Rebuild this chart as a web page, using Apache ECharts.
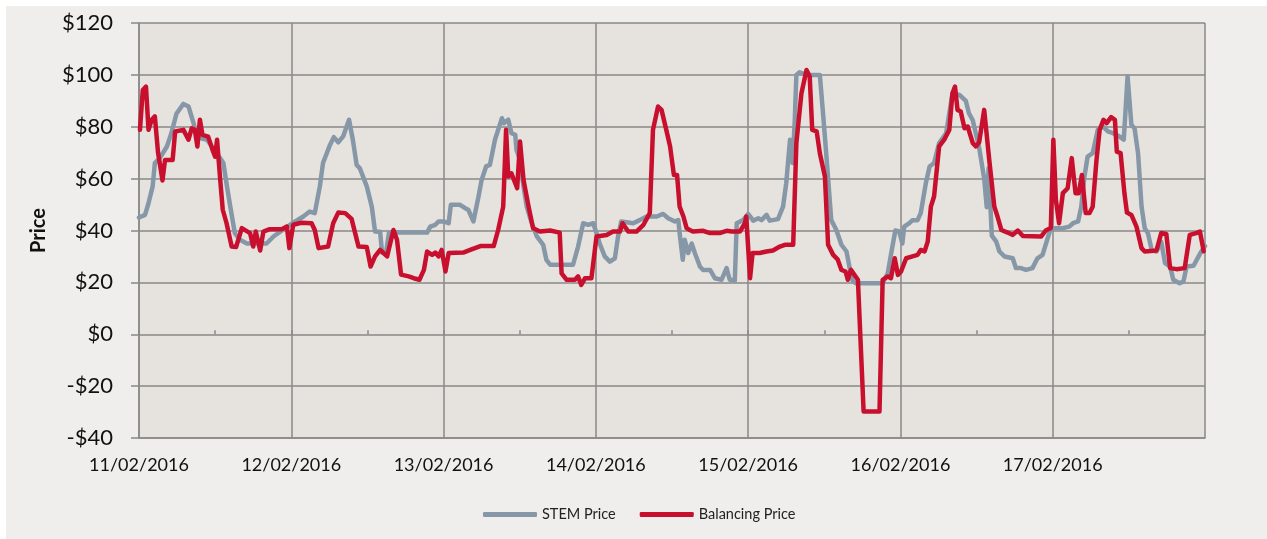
<!DOCTYPE html>
<html>
<head>
<meta charset="utf-8">
<style>
  html, body { margin: 0; padding: 0; background: #fff; }
  #price-chart { width: 1267px; height: 539px; }
</style>
<script src="https://cdn.jsdelivr.net/npm/echarts@6/dist/echarts.min.js"></script>
</head>
<body>
<div id="price-chart"></div>
<script>
// x = hours since 11/02/2016 00:00, y = price ($)
const dayLabels = ["11/02/2016", "12/02/2016", "13/02/2016", "14/02/2016", "15/02/2016", "16/02/2016", "17/02/2016", ""];
const yTicks = [-40, -20, 0, 20, 40, 60, 80, 100, 120];

const stemPrice = [
  [0, 45], [0.95, 46], [1.5, 50.5], [2.15, 57], [2.5, 66], [3.3, 68], [4.4, 72.4], [5.1, 77.5],
  [5.9, 85], [7, 88.8], [7.8, 87.8], [8.6, 81.4], [9.1, 76], [10.7, 75], [12.2, 70], [13.3, 66],
  [13.8, 58], [14.3, 50.5], [15.1, 39], [15.9, 36.4], [17, 35], [20.1, 35], [21.2, 37.7], [22.7, 40.3],
  [24.3, 43], [25.9, 45.4], [26.9, 47.3], [27.7, 46.7], [28.5, 57], [29, 66], [30.1, 73], [30.7, 76],
  [31.4, 74], [32.2, 76.4], [33.1, 82.7], [33.7, 75], [34.3, 65.3], [34.8, 64], [35.9, 57], [36.7, 49],
  [37.2, 39.6], [38, 39.5], [38.3, 31.5], [38.9, 31], [39.4, 39.2], [45.4, 39.2], [45.9, 41.5], [46.7, 42.2],
  [47.2, 43.5], [48, 43.5], [48.8, 42.8], [49.15, 49.9], [50.6, 49.9], [51.4, 48.6], [51.9, 48], [52.7, 43.5],
  [53.5, 53], [54, 59.5], [54.7, 64.7], [55.3, 65.3], [56.1, 75], [56.6, 78.8], [57.2, 83.3], [57.5, 81.4],
  [58.2, 82.7], [58.7, 77.5], [59.3, 76.9], [59.5, 71], [60.05, 67.2], [60.6, 57], [61.1, 49.2], [61.9, 42.8],
  [62.7, 37.7], [63.7, 34.5], [64.2, 28.7], [64.8, 26.8], [68.4, 26.8], [69.2, 33.8], [70, 42.8], [70.8, 42.2],
  [71.6, 42.8], [72.6, 35], [73.4, 30], [74.2, 28], [75, 29.3], [75.5, 37.7], [76, 43.5], [76.3, 43.8],
  [77.9, 42.8], [78.9, 44], [80, 45.4], [81.6, 45.4], [82.6, 46.4], [83.4, 44.7], [84.45, 43.5], [85, 44],
  [85.2, 39], [85.7, 28.7], [86, 36.4], [86.55, 31.3], [87.1, 35], [87.6, 31.3], [88.4, 26.1], [88.9, 24.8],
  [90, 24.8], [90.75, 21.6], [91.8, 21], [92.6, 25.5], [93.1, 21], [93.9, 20.7], [94.2, 42.8], [95.2, 44],
  [96, 46.4], [96.8, 43.8], [97.6, 44.7], [98.1, 44], [98.9, 46], [99.4, 43.8], [100.7, 44.4], [101.5, 49.2],
  [102, 58.2], [102.6, 75], [103, 66], [103.35, 82.7], [103.6, 100], [104.1, 101], [105.2, 100], [107.3, 100],
  [107.8, 85.2], [108.3, 69.8], [109.1, 44], [109.9, 40.2], [110.7, 34.5], [111.5, 31.9], [112, 25.5], [112.5, 20.3],
  [113, 19.7], [117.2, 19.7], [118, 23.5], [118.5, 30.6], [119.2, 40], [119.8, 39.6], [120.3, 35], [120.6, 41.5],
  [121.4, 42.8], [121.9, 44], [122.7, 44], [123.2, 46.7], [124, 58.2], [124.6, 64.7], [125.3, 66], [126.1, 73.7],
  [127.2, 77.5], [128.2, 92.9], [129.3, 92.3], [130.3, 90], [130.8, 85.2], [131.4, 82.5], [132.4, 72], [133.2, 60],
  [133.6, 49], [133.9, 64], [134.4, 38], [135.1, 35.7], [135.6, 31.9], [136.4, 30], [137.7, 29.3], [138.2, 25.5],
  [139, 25.5], [139.8, 24.8], [140.8, 25.5], [141.6, 29.3], [142.4, 30.6], [143.2, 37], [143.7, 40.9], [145.6, 40.9],
  [146.6, 41.5], [147.2, 42.8], [148, 43.5], [148.5, 49.2], [149, 60.8], [149.5, 68.5], [150.3, 69.8], [151.1, 78.8],
  [151.9, 80.1], [152.7, 78.2], [153.5, 77.5], [154.55, 76.2], [155.2, 75], [155.8, 99.4], [156.4, 80.7], [156.9, 79.4],
  [157.45, 69.8], [158, 49.2], [158.5, 40.9], [159, 39], [159.6, 32.5], [160.35, 31.9], [161.1, 35.7], [161.7, 27.4],
  [162.5, 26.1], [163, 21], [164, 19.7], [164.6, 20.3], [165.1, 26.1], [166.2, 26.4], [167.2, 31], [168, 34]
];

const balancingPrice = [
  [0.15, 78.8], [0.6, 94.2], [1.1, 95.5], [1.5, 78.8], [2, 82.7], [2.5, 84], [3, 70], [3.7, 59.3],
  [4.1, 67.2], [5.3, 67.2], [5.7, 78.2], [7, 78.8], [7.8, 75], [8.3, 79.4], [8.8, 78.8], [9.2, 72.4],
  [9.6, 82.7], [10, 76.9], [10.9, 76.2], [11.6, 71], [12, 68.5], [12.3, 75], [12.8, 59.5], [13.2, 48],
  [13.8, 42.8], [14.6, 33.8], [15.3, 33.6], [16.2, 40.9], [17.5, 39], [18, 33.8], [18.4, 39.6], [19.1, 32.3],
  [19.6, 39.6], [20.6, 40.5], [22.5, 40.5], [23.3, 41.5], [23.7, 33.2], [24.3, 42.2], [25.6, 43], [27.2, 42.8],
  [27.7, 40.2], [28.3, 33.2], [29.8, 33.8], [30.6, 42.8], [31.4, 46.9], [32.5, 46.7], [33.5, 44.5], [34.6, 33.8],
  [35.9, 33.6], [36.5, 26.1], [37.2, 30], [38, 32.5], [39.1, 30], [40.1, 40.2], [40.66, 36.4], [41.3, 23],
  [42.5, 22.3], [43.3, 21.6], [44.2, 21], [44.9, 24.8], [45.4, 31.9], [46.2, 30.6], [46.7, 31.5], [47.2, 30],
  [47.7, 32.5], [48.3, 24.2], [48.8, 31.3], [51.1, 31.5], [52.2, 32.5], [53.8, 34], [55.9, 34], [56.6, 40.2],
  [57.4, 49.2], [57.85, 78.8], [58.2, 60.8], [58.7, 62], [59.3, 58.2], [59.6, 56.3], [60.05, 74.3], [60.6, 59.5],
  [61.4, 49.2], [62.1, 40.9], [63.2, 39.6], [64.8, 40], [66.3, 39.2], [66.6, 23.5], [67.4, 21], [68.7, 21],
  [69.2, 22.3], [69.7, 19], [70.3, 21.6], [71.3, 21.6], [72.1, 37.7], [73.7, 38.3], [74.7, 39.6], [75.8, 39.6],
  [76.2, 42.8], [77.1, 39.6], [78.4, 39.6], [79.5, 42.2], [80.5, 46.7], [81, 78.8], [81.8, 87.8], [82.35, 86.5],
  [83.1, 78.8], [83.7, 72.4], [84.3, 61.4], [84.8, 61.4], [85.2, 49.2], [85.8, 45.4], [86.3, 40.9], [86.8, 40.2],
  [87.3, 39.6], [88.9, 39.9], [90, 39], [91.5, 39], [92.6, 39.9], [93.4, 39.6], [94.7, 39.6], [95.5, 42.8],
  [95.7, 45.4], [96.3, 21.6], [96.7, 31.3], [97.8, 31.3], [98.9, 31.9], [99.9, 32.3], [101, 33.8], [101.8, 34.5],
  [103.1, 34.5], [103.6, 73.7], [104.4, 92.9], [105.2, 101.9], [105.7, 99.4], [106.1, 78.8], [106.8, 78.2], [107.3, 69.8],
  [108.1, 60.8], [108.6, 34.5], [109.4, 30.6], [110.1, 28.9], [110.7, 24.8], [111.35, 24.2], [111.7, 21], [112.2, 24.8],
  [113.3, 21], [114.2, -29.8], [116.7, -29.8], [117.2, 21], [118, 22.3], [118.5, 21.6], [119.1, 29.3], [119.6, 22.9],
  [120.1, 24.2], [120.9, 29.3], [121.9, 30], [122.7, 30.6], [123.2, 32.5], [123.8, 31.9], [124.3, 35.7], [124.8, 49.2],
  [125.3, 53.1], [126.1, 72.4], [126.9, 75], [127.7, 78.8], [128.2, 92.9], [128.6, 95.5], [129, 86.5], [129.5, 85.9],
  [130.1, 79.4], [130.6, 80.1], [131.4, 73.7], [131.9, 72.4], [132.4, 74], [133.2, 86.5], [134, 67.2], [134.8, 49.2],
  [135.3, 45.4], [135.9, 40.2], [136.9, 39.2], [137.7, 38.3], [138.5, 40], [139.3, 37.9], [142.2, 37.7], [142.9, 40],
  [143.7, 41], [144.1, 75], [144.5, 51.8], [145, 42.8], [145.6, 54.4], [146.35, 56.3], [147, 67.9], [147.6, 54.4],
  [148.1, 54.4], [148.6, 61.4], [149.2, 46.7], [149.8, 46.7], [150.3, 49.2], [150.9, 67.2], [151.4, 78.8], [152, 82.7],
  [152.5, 81.4], [153.2, 83.7], [153.8, 82.7], [154.1, 70.4], [154.7, 69.8], [155.3, 54.4], [155.7, 46.9], [156.4, 46],
  [157.2, 41.5], [158, 33.2], [158.5, 31.9], [160.35, 32.3], [161.1, 39], [161.9, 38.7], [162.5, 25.5], [163.5, 25.1],
  [164.8, 25.5], [165.6, 38.3], [166.6, 39], [167.2, 39.6], [167.8, 32]
];

const gridColor = "#898989";
const font = "Lato, 'Open Sans', sans-serif";

let chart = echarts.init(document.getElementById("price-chart"));

let option = {
  backgroundColor: "#ffffff",
  animation: false,
  textStyle: { fontFamily: font },
  graphic: [
    {
      type: "rect",
      z: -100,
      silent: true,
      shape: { x: 6, y: 6, width: 1261, height: 533 },
      style: { fill: "#efeeec" },
    },
  ],
  grid: {
    show: true,
    left: 139,
    right: 62,
    top: 23,
    bottom: 101,
    backgroundColor: "#e6e3df",
    borderWidth: 0,
  },
  legend: {
    data: ["STEM Price", "Balancing Price"],
    left: 478,
    top: 502,
    icon: "roundRect",
    itemWidth: 54,
    itemHeight: 5,
    itemGap: 24,
    selectedMode: false,
    textStyle: { fontSize: 14.5, color: "#222", fontFamily: font },
  },
  xAxis: [
    {
      type: "value",
      min: 0,
      max: 168,
      interval: 24,
      axisLine: { onZero: false, lineStyle: { color: gridColor, width: 1.5 } },
      axisTick: { show: false },
      axisLabel: {
        margin: 18,
        fontSize: 18,
        color: "#111",
        formatter: (v) => dayLabels[Math.round(v / 24)] || "",
      },
      splitLine: { show: true, lineStyle: { color: gridColor, width: 1.5 } },
    },
    {
      type: "value",
      min: 0,
      max: 168,
      interval: 12,
      axisLine: { show: false, onZero: true },
      axisTick: { show: true, length: 4, lineStyle: { color: gridColor, width: 1.5 } },
      axisLabel: { show: false },
      splitLine: { show: false },
    },
  ],
  yAxis: {
    type: "value",
    min: yTicks[0],
    max: yTicks[yTicks.length - 1],
    interval: 20,
    name: "Price",
    nameLocation: "middle",
    nameGap: 90,
    nameRotate: 90,
    nameTextStyle: { fontSize: 20, fontWeight: "bold", color: "#111", fontFamily: font },
    axisLine: { show: true, lineStyle: { color: gridColor, width: 1.5 } },
    axisTick: { show: true, length: 8, lineStyle: { color: gridColor, width: 1.5 } },
    axisLabel: {
      margin: 26,
      fontSize: 22,
      color: "#111",
      formatter: (v) => (v < 0 ? "-$" + -v : "$" + v),
    },
    splitLine: { show: true, lineStyle: { color: gridColor, width: 1.5 } },
  },
  series: [
    {
      name: "STEM Price",
      type: "line",
      data: stemPrice,
      showSymbol: false,
      color: "#8697a7",
      lineStyle: { width: 4.5, cap: "round", join: "round" },
      z: 3,
    },
    {
      name: "Balancing Price",
      type: "line",
      data: balancingPrice,
      showSymbol: false,
      color: "#c8102e",
      lineStyle: { width: 4.5, cap: "round", join: "round" },
      z: 4,
    },
  ],
};

chart.setOption(option);
</script>
</body>
</html>
